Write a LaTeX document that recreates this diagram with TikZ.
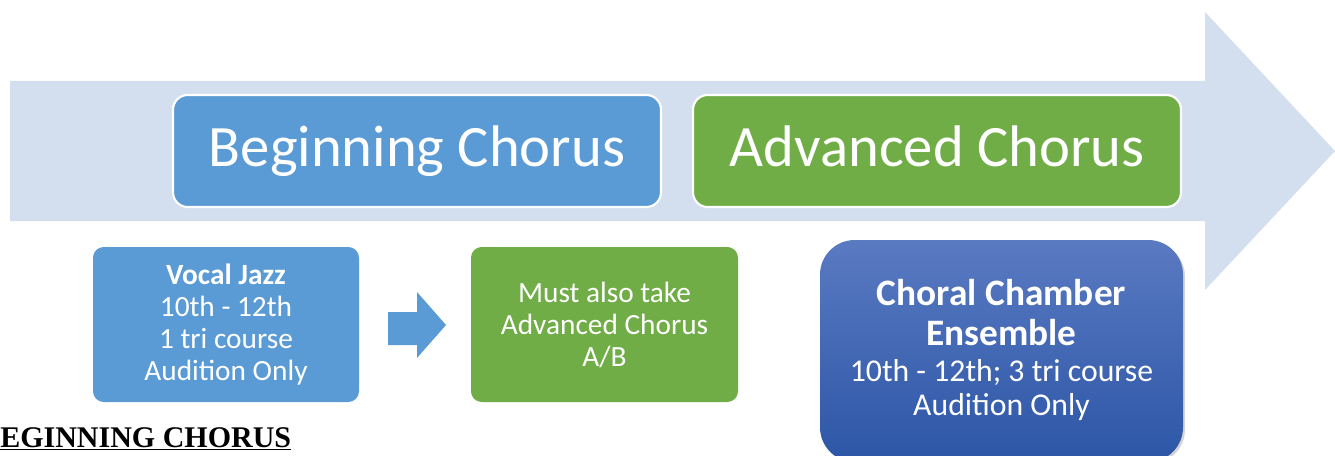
\documentclass[tikz,border=0pt]{standalone}
\usepackage{fontspec}
\setmainfont{Carlito}
\newfontfamily\timesfont{Liberation Serif}
\usetikzlibrary{shadows}
\definecolor{bandc}{HTML}{D3DEEF}
\definecolor{bluec}{HTML}{5B9BD5}
\definecolor{greenc}{HTML}{70AD47}
\definecolor{chtop}{HTML}{5A7AC2}
\definecolor{chbot}{HTML}{2C56A6}
\tikzset{
  bigbox/.style={draw=white, line width=1.6pt, rounded corners=11pt, text=white},
  smallbox/.style={rounded corners=8pt, text=white},
  bigtext/.style={text=white, font=\fontsize{44}{50}\selectfont, anchor=base},
  smalltext/.style={text=white, align=center, font=\fontsize{22}{24}\selectfont},
}
\begin{document}
\begin{tikzpicture}[x=0.75pt,y=-0.75pt]
\useasboundingbox (0,0) rectangle (1335,456);
\clip (0,0) rectangle (1335,456);
% big background arrow
\fill[bandc] (10,81) -- (1205,81) -- (1205,12) -- (1335,151) -- (1205,290) -- (1205,221) -- (10,221) -- cycle;
% top boxes
\draw[bigbox, fill=bluec] (173,95) rectangle (661,207);
\node[bigtext] (bc) at (417,167) {Beginning Chorus};
\draw[bigbox, fill=greenc] (693,95) rectangle (1181,207);
\node[bigtext] (ac) at (937,167) {Advanced Chorus};
% vocal jazz
\fill[smallbox, bluec] (93,247) rectangle (359,402);
\node[smalltext] (vj) at (226,324.5) {\textbf{Vocal Jazz}\\10th - 12th\\1 tri course\\Audition Only};
% small block arrow
\coordinate (s1) at (388,312);
\fill[bluec] (s1) -- (417,312) -- (417,292) -- (446,325) -- (417,358) -- (417,345) -- (388,345) -- cycle;
% green box
\fill[smallbox, greenc] (471,247) rectangle (738,402);
\node[smalltext] (ma) at (604.5,324.5) {Must also take\\Advanced Chorus\\A/B};
% choral chamber
\shade[top color=chtop, bottom color=chbot, rounded corners=26pt,
  drop shadow={opacity=0.35, shadow xshift=1.5pt, shadow yshift=-1.5pt}]
  (820,240) rectangle (1183,462);
\node[text=white, align=center, font=\fontsize{28}{30}\bfseries\selectfont] (cc) at (1001.5,313) {Choral Chamber\\Ensemble};
\node[text=white, align=center, font=\fontsize{23.8}{26}\selectfont] (cs) at (1001.5,390) {10th - 12th; 3 tri course\\Audition Only};
% heading
\node[anchor=base west, inner sep=0pt, font=\timesfont\bfseries\fontsize{22.5}{24}\selectfont] (hd) at (0,447) {\underline{EGINNING CHORUS}};
\end{tikzpicture}
\end{document}
